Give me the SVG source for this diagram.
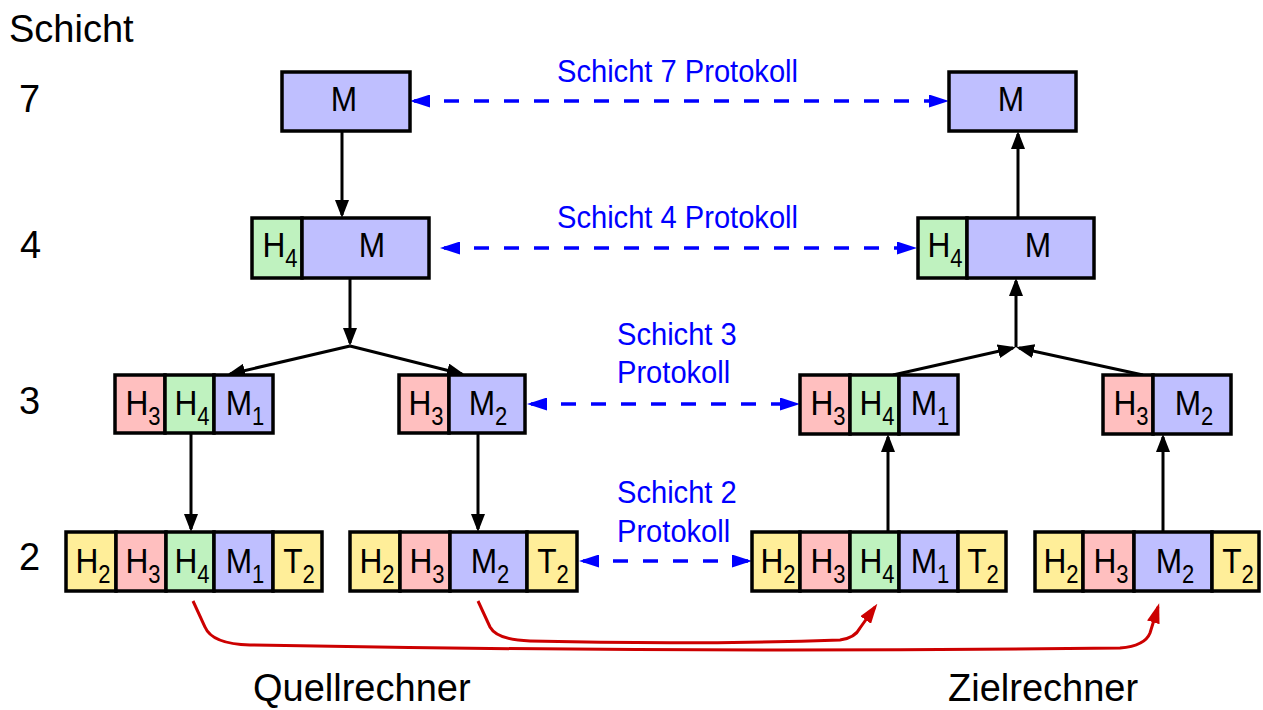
<svg xmlns="http://www.w3.org/2000/svg" width="1263" height="710" viewBox="0 0 1263 710">
  <style>
    .cell { stroke: #000; stroke-width: 3.5; }
    .m { fill: #bfbfff; }
    .h4 { fill: #bff2bf; }
    .h3 { fill: #ffbfbf; }
    .h2 { fill: #ffee99; }
    .t { font-family: "Liberation Sans", Arial, sans-serif; font-size: 36px; text-anchor: middle; fill: #000; }
    .sub { font-size: 25px; }
    .lbl { font-family: "Liberation Sans", Arial, sans-serif; font-size: 38px; fill: #000; }
    .blue { font-family: "Liberation Sans", Arial, sans-serif; font-size: 32px; fill: #0000ff; }
    .arrow { fill: none; stroke: #000; stroke-width: 3; marker-end: url(#ab); }
    .proto { fill: none; stroke: #0000ff; stroke-width: 3.5; stroke-dasharray: 15 15; marker-start: url(#bb); marker-end: url(#bb); }
    .flow { fill: none; stroke: #cc0000; stroke-width: 3; marker-end: url(#rb); }
  </style>
  <defs>
    <marker id="ab" markerUnits="userSpaceOnUse" markerWidth="18" markerHeight="14" refX="15" refY="7" orient="auto">
      <path d="M0,0L18,7L0,14z" fill="#000"/>
    </marker>
    <marker id="bb" markerUnits="userSpaceOnUse" markerWidth="20" markerHeight="13" refX="16" refY="6.5" orient="auto-start-reverse">
      <path d="M0,0L20,6.5L0,13z" fill="#0000ff"/>
    </marker>
    <marker id="rb" markerUnits="userSpaceOnUse" markerWidth="20" markerHeight="13" refX="16" refY="6.5" orient="auto">
      <path d="M0,0L20,6.5L0,13z" fill="#cc0000"/>
    </marker>
  </defs>
  <rect width="1263" height="710" fill="#fff"/>

  <!-- layer labels -->
  <g id="layer-labels">
    <text class="lbl" x="9" y="42">Schicht</text>
    <text class="lbl" x="19" y="112">7</text>
    <text class="lbl" x="20" y="258">4</text>
    <text class="lbl" x="19" y="414">3</text>
    <text class="lbl" x="19" y="570">2</text>
    <text class="lbl" x="253" y="701">Quellrechner</text>
    <text class="lbl" x="948" y="701">Zielrechner</text>
  </g>

  <!-- protocol labels -->
  <g id="protocol-labels">
    <text class="blue" transform="translate(557 82) scale(.91 1)">Schicht 7 Protokoll</text>
    <text class="blue" transform="translate(557 228) scale(.91 1)">Schicht 4 Protokoll</text>
    <text class="blue" transform="translate(617 345) scale(.91 1)">Schicht 3</text>
    <text class="blue" transform="translate(617 383) scale(.91 1)">Protokoll</text>
    <text class="blue" transform="translate(617 503) scale(.91 1)">Schicht 2</text>
    <text class="blue" transform="translate(617 542) scale(.91 1)">Protokoll</text>
  </g>

  <!-- connectors -->
  <g id="connectors">
    <path class="arrow" d="M342,131L342,215"/>
    <path class="arrow" d="M350,278L350,343"/>
    <path class="arrow" d="M350,346L230,374"/>
    <path class="arrow" d="M350,346L462,374"/>
    <path class="arrow" d="M191,433L191,529"/>
    <path class="arrow" d="M478,433L478,529"/>
    <path class="arrow" d="M888,532L888,437"/>
    <path class="arrow" d="M1163,532L1163,437"/>
    <path class="arrow" d="M893,375L1013,348"/>
    <path class="arrow" d="M1143,375L1019,348"/>
    <path class="arrow" d="M1016,347L1016,281"/>
    <path class="arrow" d="M1018,218L1018,134"/>

    <path class="proto" d="M414,101L945,101"/>
    <path class="proto" d="M444,248L913,248"/>
    <path class="proto" d="M531,404L796,404"/>
    <path class="proto" d="M583,561L748,561"/>

    <path class="flow" d="M193,601L205,627Q212,644 250,645Q680,653 1120,648Q1145,646 1150,633L1158,607"/>
    <path class="flow" d="M478,601L490,627Q497,640 530,641Q690,645 840,640Q855,638 860,628L875,607"/>
  </g>

  <!-- source host -->
  <g id="src-l7">
    <rect class="cell m" x="282" y="72" width="128" height="59"/>
    <text class="t" transform="translate(344 111) scale(.88 1)">M</text>
  </g>
  <g id="src-l4">
    <rect class="cell h4" x="252" y="218" width="50" height="60"/>
    <rect class="cell m" x="302" y="218" width="127" height="60"/>
    <text class="t" transform="translate(280 257) scale(.88 1)">H<tspan class="sub" dy="10">4</tspan></text>
    <text class="t" transform="translate(372 257) scale(.88 1)">M</text>
  </g>
  <g id="src-l3-a">
    <rect class="cell h3" x="115" y="375" width="50" height="58"/>
    <rect class="cell h4" x="165" y="375" width="49" height="58"/>
    <rect class="cell m" x="214" y="375" width="59" height="58"/>
    <text class="t" transform="translate(143 415) scale(.88 1)">H<tspan class="sub" dy="10">3</tspan></text>
    <text class="t" transform="translate(192 415) scale(.88 1)">H<tspan class="sub" dy="10">4</tspan></text>
    <text class="t" transform="translate(245 415) scale(.88 1)">M<tspan class="sub" dy="10">1</tspan></text>
  </g>
  <g id="src-l3-b">
    <rect class="cell h3" x="399" y="375" width="50" height="58"/>
    <rect class="cell m" x="449" y="375" width="76" height="58"/>
    <text class="t" transform="translate(426 415) scale(.88 1)">H<tspan class="sub" dy="10">3</tspan></text>
    <text class="t" transform="translate(488 415) scale(.88 1)">M<tspan class="sub" dy="10">2</tspan></text>
  </g>
  <g id="src-l2-a">
    <rect class="cell h2" x="66" y="532" width="50" height="59"/>
    <rect class="cell h3" x="116" y="532" width="50" height="59"/>
    <rect class="cell h4" x="166" y="532" width="48" height="59"/>
    <rect class="cell m" x="214" y="532" width="59" height="59"/>
    <rect class="cell h2" x="273" y="532" width="49" height="59"/>
    <text class="t" transform="translate(93 573) scale(.88 1)">H<tspan class="sub" dy="10">2</tspan></text>
    <text class="t" transform="translate(143 573) scale(.88 1)">H<tspan class="sub" dy="10">3</tspan></text>
    <text class="t" transform="translate(192 573) scale(.88 1)">H<tspan class="sub" dy="10">4</tspan></text>
    <text class="t" transform="translate(245 573) scale(.88 1)">M<tspan class="sub" dy="10">1</tspan></text>
    <text class="t" transform="translate(299 573) scale(.88 1)">T<tspan class="sub" dy="10">2</tspan></text>
  </g>
  <g id="src-l2-b">
    <rect class="cell h2" x="350" y="532" width="50" height="59"/>
    <rect class="cell h3" x="400" y="532" width="50" height="59"/>
    <rect class="cell m" x="450" y="532" width="77" height="59"/>
    <rect class="cell h2" x="527" y="532" width="50" height="59"/>
    <text class="t" transform="translate(377 573) scale(.88 1)">H<tspan class="sub" dy="10">2</tspan></text>
    <text class="t" transform="translate(427 573) scale(.88 1)">H<tspan class="sub" dy="10">3</tspan></text>
    <text class="t" transform="translate(490 573) scale(.88 1)">M<tspan class="sub" dy="10">2</tspan></text>
    <text class="t" transform="translate(553 573) scale(.88 1)">T<tspan class="sub" dy="10">2</tspan></text>
  </g>

  <!-- destination host -->
  <g id="dst-l7">
    <rect class="cell m" x="949" y="72" width="127" height="59"/>
    <text class="t" transform="translate(1011 111) scale(.88 1)">M</text>
  </g>
  <g id="dst-l4">
    <rect class="cell h4" x="918" y="218" width="49" height="60"/>
    <rect class="cell m" x="967" y="218" width="127" height="60"/>
    <text class="t" transform="translate(945 257) scale(.88 1)">H<tspan class="sub" dy="10">4</tspan></text>
    <text class="t" transform="translate(1038 257) scale(.88 1)">M</text>
  </g>
  <g id="dst-l3-a">
    <rect class="cell h3" x="800" y="375" width="50" height="59"/>
    <rect class="cell h4" x="850" y="375" width="49" height="59"/>
    <rect class="cell m" x="899" y="375" width="59" height="59"/>
    <text class="t" transform="translate(828 415) scale(.88 1)">H<tspan class="sub" dy="10">3</tspan></text>
    <text class="t" transform="translate(877 415) scale(.88 1)">H<tspan class="sub" dy="10">4</tspan></text>
    <text class="t" transform="translate(930 415) scale(.88 1)">M<tspan class="sub" dy="10">1</tspan></text>
  </g>
  <g id="dst-l3-b">
    <rect class="cell h3" x="1103" y="375" width="50" height="59"/>
    <rect class="cell m" x="1153" y="375" width="78" height="59"/>
    <text class="t" transform="translate(1131 415) scale(.88 1)">H<tspan class="sub" dy="10">3</tspan></text>
    <text class="t" transform="translate(1194 415) scale(.88 1)">M<tspan class="sub" dy="10">2</tspan></text>
  </g>
  <g id="dst-l2-a">
    <rect class="cell h2" x="752" y="532" width="48" height="59"/>
    <rect class="cell h3" x="800" y="532" width="50" height="59"/>
    <rect class="cell h4" x="850" y="532" width="49" height="59"/>
    <rect class="cell m" x="899" y="532" width="59" height="59"/>
    <rect class="cell h2" x="958" y="532" width="48" height="59"/>
    <text class="t" transform="translate(778 573) scale(.88 1)">H<tspan class="sub" dy="10">2</tspan></text>
    <text class="t" transform="translate(828 573) scale(.88 1)">H<tspan class="sub" dy="10">3</tspan></text>
    <text class="t" transform="translate(877 573) scale(.88 1)">H<tspan class="sub" dy="10">4</tspan></text>
    <text class="t" transform="translate(930 573) scale(.88 1)">M<tspan class="sub" dy="10">1</tspan></text>
    <text class="t" transform="translate(983 573) scale(.88 1)">T<tspan class="sub" dy="10">2</tspan></text>
  </g>
  <g id="dst-l2-b">
    <rect class="cell h2" x="1035" y="532" width="48" height="59"/>
    <rect class="cell h3" x="1083" y="532" width="51" height="59"/>
    <rect class="cell m" x="1134" y="532" width="78" height="59"/>
    <rect class="cell h2" x="1212" y="532" width="47" height="59"/>
    <text class="t" transform="translate(1061 573) scale(.88 1)">H<tspan class="sub" dy="10">2</tspan></text>
    <text class="t" transform="translate(1111 573) scale(.88 1)">H<tspan class="sub" dy="10">3</tspan></text>
    <text class="t" transform="translate(1175 573) scale(.88 1)">M<tspan class="sub" dy="10">2</tspan></text>
    <text class="t" transform="translate(1238 573) scale(.88 1)">T<tspan class="sub" dy="10">2</tspan></text>
  </g>
</svg>
